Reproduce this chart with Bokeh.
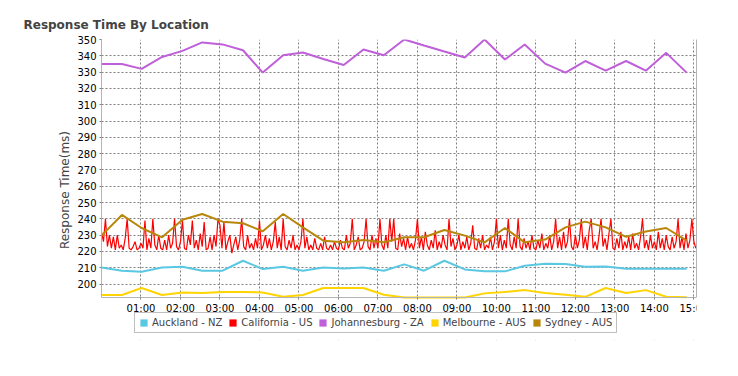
from bokeh.plotting import figure
from bokeh.models import (Range1d, FixedTicker, Legend, LegendItem, LinearAxis,
                          ColumnDataSource, BoxAnnotation)
from bokeh.embed import file_html
from bokeh.resources import INLINE

# ---------------- data ----------------
series_names = ["Auckland - NZ", "California - US", "Johannesburg - ZA", "Melbourne - AUS", "Sydney - AUS"]
series_colors = ["#5ac8e2", "#ff0000", "#bf5fd9", "#ffd400", "#b8860b"]

# half-hourly samples (minutes after 00:00)
sample_minutes = [0, 31, 61, 92, 123, 153, 184, 215, 245, 276, 306, 337, 368, 398, 429,
                  460, 490, 521, 552, 582, 613, 643, 674, 705, 735, 766, 797, 827, 858, 889]

auckland = [210.2, 208.2, 207.6, 210.2, 210.6, 208.2, 208.2, 214.3, 209.2, 210.6,
            208.2, 210.2, 209.5, 210.2, 208.2, 212.1, 208.2, 214.3, 209.0, 207.8,
            207.8, 211.2, 212.5, 212.3, 210.6, 210.8, 209.4, 209.4, 209.4, 209.4]

johannesburg = [335, 335, 332, 339.3, 343, 348.2, 347, 343.4, 329.7, 340.3,
                342, 338, 334.4, 343.9, 340.3, 350, 346.3, 342.6, 339, 350,
                337.7, 346.9, 335.2, 329.7, 336.8, 330.9, 336.8, 330.9, 341.8, 329.7]

melbourne = [193.3, 193.3, 197.6, 193.3, 194.9, 194.5, 195.1, 195.1, 194.9, 192.2,
             193.3, 197.6, 197.6, 197.6, 193.5, 191.8, 191.8, 191.8, 191.8, 194.3,
             195.2, 196.3, 194.5, 193.5, 192.2, 197.6, 194.5, 196.3, 192.2, 192.0]

sydney = [229.7, 242.4, 234.4, 228.7, 239.5, 243, 238.3, 237.3, 232.4, 243,
          234.8, 226.6, 225.6, 227, 225.6, 228.7, 228.7, 233.2, 229.7, 225.6,
          234.4, 225.6, 227.3, 234.8, 238.3, 234.8, 229, 232.2, 234.4, 226.6]

# California: sampled every 3 minutes
california_step_min = 3
california = [
    232, 226, 240, 223, 230, 222, 229, 221, 230, 222, 224, 221, 228, 240, 222, 221, 223, 226, 221, 222,
    225, 222, 239, 221, 228, 222, 240, 224, 221, 230, 222, 221, 227, 221, 230, 222, 225, 240, 223, 221,
    226, 239, 222, 221, 230, 224, 239, 222, 227, 221, 231, 223, 238, 221, 222, 229, 221, 230, 223, 240,
    236, 222, 238, 221, 226, 230, 219, 224, 229, 221, 227, 240, 223, 221, 230, 222, 225, 221, 228, 222,
    239, 221, 224, 230, 222, 228, 221, 226, 238, 222, 229, 221, 240, 223, 221, 227, 222, 230, 221, 224,
    221, 226, 240, 222, 229, 221, 224, 221, 228, 222, 221, 225, 221, 229, 222, 221, 224, 221, 226, 222,
    221, 227, 222, 221, 230, 222, 225, 240, 221, 224, 229, 221, 222, 226, 240, 223, 221, 230, 222, 228,
    222, 240, 224, 221, 230, 222, 240, 226, 240, 222, 221, 231, 223, 228, 221, 229, 222, 225, 221, 227,
    240, 222, 229, 221, 232, 224, 221, 227, 222, 233, 221, 226, 222, 230, 224, 221, 240, 223, 228, 221,
    224, 230, 221, 226, 222, 229, 221, 225, 236, 222, 221, 228, 222, 230, 221, 224, 222, 229, 221, 226,
    240, 222, 230, 221, 227, 222, 240, 224, 221, 229, 222, 240, 223, 221, 228, 222, 226, 221, 230, 222,
    221, 227, 222, 231, 221, 225, 222, 230, 221, 226, 240, 222, 229, 221, 232, 222, 226, 240, 223, 221,
    230, 222, 227, 240, 222, 229, 221, 233, 240, 222, 226, 221, 230, 240, 223, 228, 221, 231, 240, 222,
    221, 228, 222, 232, 221, 226, 222, 229, 221, 231, 222, 225, 221, 229, 240, 222, 227, 221, 230, 222,
    226, 221, 232, 222, 228, 221, 230, 223, 221, 229, 222, 226, 240, 222, 229, 221, 231, 222, 227, 240,
    226, 222,
]
california_minutes = [i * california_step_min for i in range(len(california))]

x_tick_minutes = [60, 120, 180, 240, 300, 360, 420, 480, 540, 600, 660, 720, 780, 840, 900]
x_tick_labels = ["01:00", "02:00", "03:00", "04:00", "05:00", "06:00", "07:00", "08:00",
                 "09:00", "10:00", "11:00", "12:00", "13:00", "14:00", "15:00"]
y_ticks = [200, 210, 220, 230, 240, 250, 260, 270, 280, 290, 300, 310, 320, 330, 340, 350]
x_end = 904
y_floor, y_top = 191.8, 350      # visible value axis
y_frame_start = 165.4            # extra room under the axis for the legend

# ---------------- figure ----------------
FONT = "DejaVu Sans"
AXIS_GREY = "#b4b4b4"
p = figure(width=738, height=376, output_backend="svg", toolbar_location=None,
           x_range=Range1d(0, x_end), y_range=Range1d(y_frame_start, y_top),
           min_border_left=101, min_border_right=42, min_border_top=39, min_border_bottom=36)
p.outline_line_color = None

p.title.text = "Response Time By Location"
p.title.text_font = FONT
p.title.text_font_style = "bold"
p.title.text_font_size = "12px"
p.title.align = "left"
p.title.offset = -78
p.title.standoff = 15

# grid
p.xgrid.ticker = FixedTicker(ticks=x_tick_minutes)
p.ygrid.ticker = FixedTicker(ticks=y_ticks)
p.grid.grid_line_color = "#808080"
p.grid.grid_line_dash = "2 2"
p.grid.grid_line_width = 1

# white strip below the value axis (hides grid there)
p.add_layout(BoxAnnotation(top=y_floor, fill_color="white", fill_alpha=1,
                           line_color=None, level="underlay"))

# axes
p.xaxis.ticker = FixedTicker(ticks=x_tick_minutes)
p.xaxis.major_label_overrides = {m: l for m, l in zip(x_tick_minutes, x_tick_labels)}
p.xaxis.fixed_location = y_floor
p.yaxis.ticker = FixedTicker(ticks=y_ticks)
p.yaxis.bounds = (y_floor, y_top)
p.yaxis.axis_label = "Response Time(ms)"
for ax in (p.xaxis, p.yaxis):
    ax.axis_line_color = AXIS_GREY
    ax.axis_line_width = 1
    ax.major_tick_line_color = "#808080"
    ax.major_tick_out = 2
    ax.major_tick_in = 0
    ax.minor_tick_line_color = None
    ax.major_label_text_font = FONT
    ax.major_label_text_font_size = "10px"
    ax.major_label_text_color = "#000000"
    ax.major_label_standoff = 3
p.yaxis.axis_label_text_font = FONT
p.yaxis.axis_label_text_font_size = "12px"
p.yaxis.axis_label_text_font_style = "normal"
p.yaxis.axis_label_standoff = 2
p.xaxis.major_label_standoff = 4

right_axis = LinearAxis(ticker=FixedTicker(ticks=[]), bounds=(y_floor, y_top),
                        major_tick_line_color=None, minor_tick_line_color=None,
                        axis_line_color=AXIS_GREY)
p.add_layout(right_axis, "right")

# lines
p.line(california_minutes, california, line_color=series_colors[1], line_width=1.2)
p.line(sample_minutes, johannesburg, line_color=series_colors[2], line_width=2)
p.line(sample_minutes, auckland, line_color=series_colors[0], line_width=2)
p.line(sample_minutes, melbourne, line_color=series_colors[3], line_width=2)
p.line(sample_minutes, sydney, line_color=series_colors[4], line_width=2)

# legend with square swatches (helper renderers holding no drawable point)
nan = float("nan")
items = []
for name, col in zip(series_names, series_colors):
    src = ColumnDataSource(data=dict(l=[nan], r=[nan], t=[nan], b=[nan]))
    sw = p.quad(left="l", right="r", top="t", bottom="b", source=src,
                fill_color=col, line_color=None)
    items.append(LegendItem(label=name, renderers=[sw], index=0))

legend = Legend(items=items, orientation="horizontal", location=(33, 7),
                glyph_width=9, glyph_height=9, label_height=10, label_standoff=4,
                spacing=6, padding=4, margin=0,
                label_text_font=FONT, label_text_font_size="10px",
                border_line_color="#808080", border_line_width=1)
p.add_layout(legend)

open("out.html", "w").write(file_html(p, INLINE))
